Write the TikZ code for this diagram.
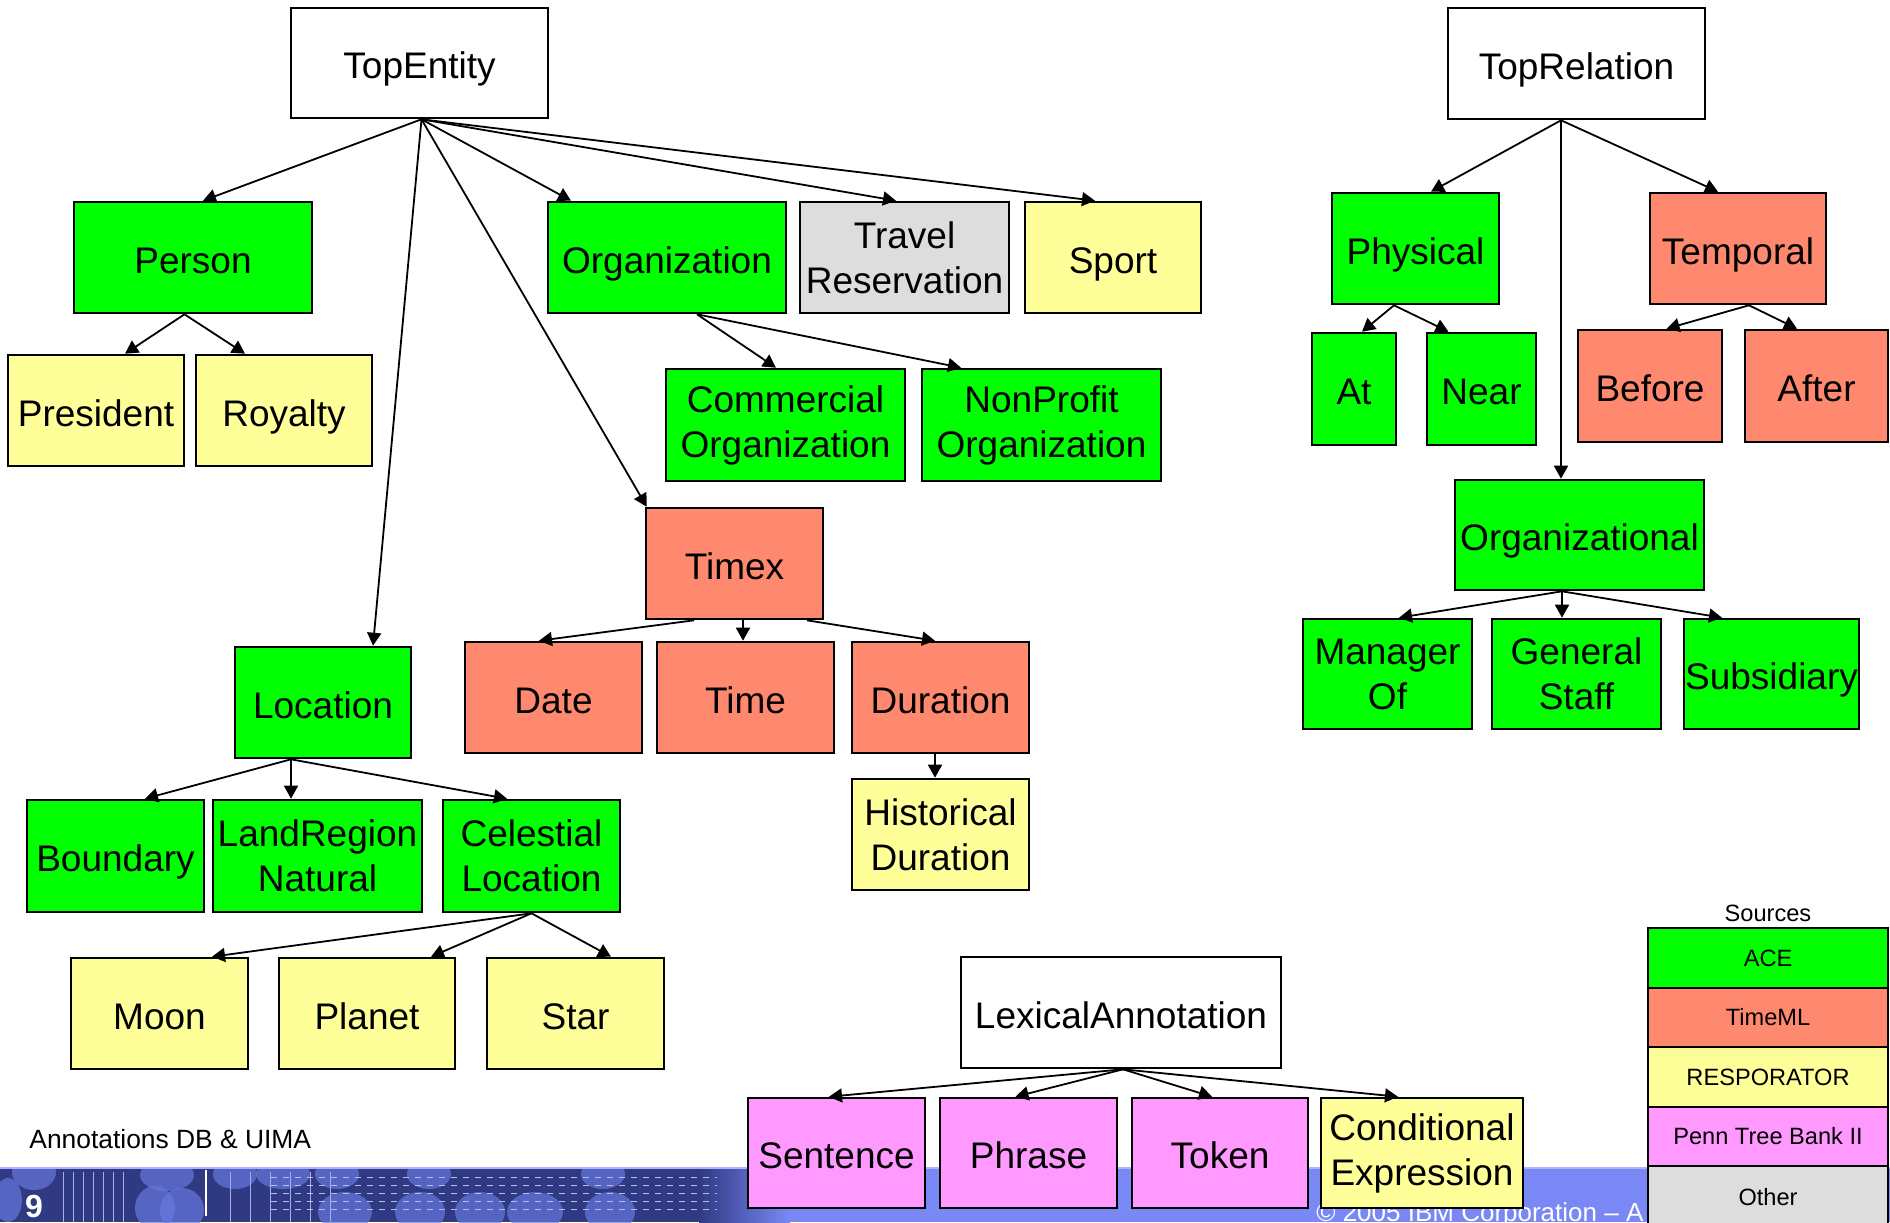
\documentclass[tikz,border=0pt]{standalone}
\usepackage{fontspec}
\setmainfont{Liberation Sans}
\usetikzlibrary{arrows.meta}

\definecolor{ace}{RGB}{0,255,0}
\definecolor{timeml}{RGB}{255,137,110}
\definecolor{resp}{RGB}{255,255,153}
\definecolor{penn}{RGB}{255,153,255}
\definecolor{other}{RGB}{221,221,221}
\definecolor{bandflat}{RGB}{122,136,245}
\definecolor{bandnavy}{RGB}{48,58,130}
\definecolor{bandlight}{RGB}{104,120,222}
\definecolor{bandedge}{RGB}{170,182,255}

% a single text line, centred on its capitals
\newcommand\capline[1]{\raisebox{-1.2pt}[0.716em][0pt]{#1}}
% boxes given by their corners in pixel units: style, name, x1, y1, x2, y2, text
\newcommand\tbox[7]{\node[box,#1,minimum width={(#5-#3)*0.5pt},minimum height={(#6-#4)*0.5pt}] (#2) at ({(#3+#5)/2},{(#4+#6)/2}) {\capline{#7}};}
\newcommand\tboxtwo[7]{\node[box,#1,minimum width={(#5-#3)*0.5pt},minimum height={(#6-#4)*0.5pt}] (#2) at ({(#3+#5)/2},{(#4+#6)/2}) {#7};}

\tikzset{
  box/.style={draw, line width=1.3pt, inner sep=0pt, align=center,
              font=\fontsize{18.5}{22.5}\selectfont, text=black},
  plain/.style={fill=white},
  link/.style={draw, line width=0.9pt, -{Triangle[length=6.5pt,width=7pt]}},
  legendrow/.style={draw, line width=1.1pt, inner sep=0pt,
              font=\fontsize{11.8}{14}\selectfont,
              minimum width=120pt, minimum height=29.8pt},
}

\begin{document}
\begin{tikzpicture}[x=0.5pt,y=-0.5pt]
\useasboundingbox (0,0) rectangle (1890,1222);
\fill[white] (0,0) rectangle (1890,1222);

% ---- footer band ----
\begin{scope}
  \clip (0,1168) rectangle (1890,1222);
  \fill[bandflat] (0,1168) rectangle (1890,1222);
  \fill[bandnavy] (0,1168) rectangle (700,1222);
  \shade[left color=bandnavy, right color=bandflat] (699,1168) rectangle (790,1222);
  \foreach \cx/\cy/\rx/\ry in {34/1172/22/18, 8/1200/14/22, 167/1175/27/16, 235/1174/22/15,
      283/1174/27/15, 337/1174/22/15, 429/1174/22/15, 603/1174/22/15,
      155/1208/20/22, 182/1210/22/22, 345/1212/27/20, 420/1212/25/20,
      480/1212/25/20, 535/1212/28/20, 610/1212/25/20}
    \fill[bandlight, opacity=0.7] (\cx,\cy) ellipse [x radius=\rx, y radius=\ry];
  \foreach \vx in {63,73,...,126, 230,250,...,330}
    \draw[bandlight!60!white, line width=0.3pt] (\vx,1172) -- (\vx,1222);
  \foreach \hy in {1177,1185,...,1213}
    \draw[bandlight!50!white, dashed, line width=0.4pt] (271,\hy) -- (717,\hy);
  \draw[white, line width=1pt] (206,1170) -- (206,1216);
\end{scope}
\draw[bandedge, line width=0.8pt] (0,1168) -- (1890,1168);

\node[anchor=west, inner sep=0pt, font=\fontsize{13.2}{15}\selectfont] (caption) at (29,1139) {Annotations DB \& UIMA};
\node[text=white, font=\fontsize{16}{18}\bfseries] (pageno) at (34,1206) {9};
\node[anchor=base west, text=white, font=\fontsize{13}{15}\selectfont, inner sep=0pt] (copyright) at (1316,1221) {© 2005 IBM Corporation – A};

% ---- entity tree ----
\tbox{plain}{topent}{291}{8}{548}{118}{TopEntity}
\tbox{fill=ace}{person}{74}{202}{312}{313}{Person}
\tbox{fill=resp}{president}{8}{355}{184}{466}{President}
\tbox{fill=resp}{royalty}{196}{355}{372}{466}{Royalty}
\tbox{fill=ace}{org}{548}{202}{786}{313}{Organization}
\tboxtwo{fill=other}{travel}{800}{202}{1009}{313}{Travel\\Reservation}
\tbox{fill=resp}{sport}{1025}{202}{1201}{313}{Sport}
\tboxtwo{fill=ace}{comm}{666}{369}{905}{481}{Commercial\\Organization}
\tboxtwo{fill=ace}{nonprofit}{922}{369}{1161}{481}{NonProfit\\Organization}
\tbox{fill=timeml}{timex}{646}{508}{823}{619}{Timex}
\tbox{fill=timeml}{date}{465}{642}{642}{753}{Date}
\tbox{fill=timeml}{time}{657}{642}{834}{753}{Time}
\tbox{fill=timeml}{duration}{852}{642}{1029}{753}{Duration}
\tboxtwo{fill=resp}{histdur}{852}{779}{1029}{890}{Historical\\Duration}
\tbox{fill=ace}{location}{235}{647}{411}{758}{Location}
\tbox{fill=ace}{boundary}{27}{800}{204}{912}{Boundary}
\tboxtwo{fill=ace}{landregion}{213}{800}{422}{912}{LandRegion\\Natural}
\tboxtwo{fill=ace}{celestial}{443}{800}{620}{912}{Celestial\\Location}
\tbox{fill=resp}{moon}{71}{958}{248}{1069}{Moon}
\tbox{fill=resp}{planet}{279}{958}{455}{1069}{Planet}
\tbox{fill=resp}{star}{487}{958}{664}{1069}{Star}

% ---- lexical tree ----
\tbox{plain}{lexical}{961}{957}{1281}{1068}{LexicalAnnotation}
\tbox{fill=penn}{sentence}{748}{1098}{925}{1208}{Sentence}
\tbox{fill=penn}{phrase}{940}{1098}{1117}{1208}{Phrase}
\tbox{fill=penn}{token}{1132}{1098}{1308}{1208}{Token}
\tboxtwo{fill=resp}{condexpr}{1321}{1098}{1523}{1208}{Conditional\\Expression}

% ---- relation tree ----
\tbox{plain}{toprel}{1448}{8}{1705}{119}{TopRelation}
\tbox{fill=ace}{physical}{1332}{193}{1499}{304}{Physical}
\tbox{fill=timeml}{temporal}{1650}{193}{1826}{304}{Temporal}
\tbox{fill=ace}{at}{1312}{333}{1396}{445}{At}
\tbox{fill=ace}{near}{1427}{333}{1536}{445}{Near}
\tbox{fill=timeml}{before}{1578}{330}{1722}{442}{Before}
\tbox{fill=timeml}{after}{1745}{330}{1888}{442}{After}
\tbox{fill=ace}{orgrel}{1455}{480}{1704}{590}{Organizational}
\tboxtwo{fill=ace}{manager}{1303}{619}{1472}{729}{Manager\\Of}
\tboxtwo{fill=ace}{staff}{1492}{619}{1661}{729}{General\\Staff}
\tbox{fill=ace}{subsidiary}{1684}{619}{1859}{729}{Subsidiary}

% ---- connectors ----
\draw[link] ([xshift=1pt]topent.south) -- ([xshift=5pt]person.north);
\draw[link] ([xshift=1pt]topent.south) -- ([xshift=-48pt]org.north);
\draw[link] ([xshift=1pt]topent.south) -- ([xshift=-4.25pt]travel.north);
\draw[link] ([xshift=1pt]topent.south) -- ([xshift=-9pt]sport.north);
\draw[link] ([xshift=1pt]topent.south) -- ([xshift=25pt]location.north);
\draw[link] ([xshift=1pt]topent.south) -- ([xshift=1pt]timex.north west);

\draw[link] ([xshift=-4.25pt]person.south) -- ([xshift=14.5pt]president.north);
\draw[link] ([xshift=-4.25pt]person.south) -- ([xshift=-19.5pt]royalty.north);

\draw[link] ([xshift=15pt]org.south) -- ([xshift=-4.75pt]comm.north);
\draw[link] ([xshift=15pt]org.south) -- ([xshift=-40.25pt]nonprofit.north);

\draw[link] ([xshift=-20.25pt]timex.south) -- ([xshift=-7.25pt]date.north);
\draw[link] ([xshift=4.25pt]timex.south) -- ([xshift=-1.25pt]time.north);
\draw[link] ([xshift=36.25pt]timex.south) -- ([xshift=-2.75pt]duration.north);
\draw[link] ([xshift=-2.75pt]duration.south) -- ([xshift=-2.75pt]histdur.north);

\draw[link] ([xshift=-16pt]location.south) -- ([xshift=14.75pt]boundary.north);
\draw[link] ([xshift=-16pt]location.south) -- ([xshift=-13.25pt]landregion.north);
\draw[link] ([xshift=-16pt]location.south) -- ([xshift=-12.25pt]celestial.north);

\draw[link] (celestial.south) -- ([xshift=26.25pt]moon.north);
\draw[link] (celestial.south) -- ([xshift=32pt]planet.north);
\draw[link] (celestial.south) -- ([xshift=17.75pt]star.north);

\draw[link] ([xshift=1pt]lexical.south) -- ([xshift=-3.75pt]sentence.north);
\draw[link] ([xshift=1pt]lexical.south) -- ([xshift=-6.5pt]phrase.north);
\draw[link] ([xshift=1pt]lexical.south) -- ([xshift=-4pt]token.north);
\draw[link] ([xshift=1pt]lexical.south) -- ([xshift=-12pt]condexpr.north);

\draw[link] ([xshift=-7.75pt]toprel.south) -- ([xshift=7.75pt]physical.north);
\draw[link] ([xshift=-7.75pt]toprel.south) -- ([xshift=-10pt]temporal.north);
\draw[link] ([xshift=-7.75pt]toprel.south) -- ([xshift=-9.25pt]orgrel.north);

\draw[link] ([xshift=-10.75pt]physical.south) -- ([xshift=4pt]at.north);
\draw[link] ([xshift=-10.75pt]physical.south) -- ([xshift=-16.5pt]near.north);
\draw[link] ([xshift=5.5pt]temporal.south) -- ([xshift=8.25pt]before.north);
\draw[link] ([xshift=5.5pt]temporal.south) -- ([xshift=-9.75pt]after.north);

\draw[link] ([xshift=-8.75pt]orgrel.south) -- ([xshift=5.75pt]manager.north);
\draw[link] ([xshift=-8.75pt]orgrel.south) -- ([xshift=-7.25pt]staff.north);
\draw[link] ([xshift=-8.75pt]orgrel.south) -- ([xshift=-24.75pt]subsidiary.north);

% ---- legend ----
\node[font=\fontsize{11.8}{14}\selectfont] (sources) at (1768,913) {Sources};
\node[legendrow, fill=ace]    (lace)  at (1768,958)  {ACE};
\node[legendrow, fill=timeml] (ltime) at (1768,1017.5) {TimeML};
\node[legendrow, fill=resp]   (lresp) at (1768,1077) {RESPORATOR};
\node[legendrow, fill=penn]   (lpenn) at (1768,1136.5) {Penn Tree Bank II};
\node[legendrow, fill=other, minimum height=31pt] (lother) at (1768,1197) {Other};
\end{tikzpicture}
\end{document}
